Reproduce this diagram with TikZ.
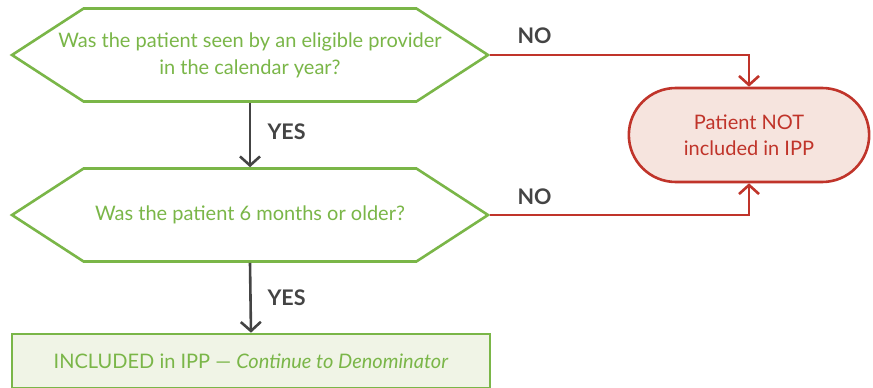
\documentclass[tikz,border=0pt]{standalone}
\usepackage{fontspec}
\setmainfont{Lato}
\usetikzlibrary{shapes.symbols,shapes.misc,arrows.meta}
\definecolor{qgreen}{RGB}{122,182,72}
\definecolor{qred}{RGB}{192,52,42}
\definecolor{qpink}{RGB}{246,228,222}
\definecolor{qpale}{RGB}{240,244,230}
\definecolor{qgray}{RGB}{68,68,68}
\tikzset{
    question/.style={signal, signal to=west and east, signal pointer angle=66,
        draw=qgreen, line width=2.6pt, fill=white,
        minimum width=476pt, minimum height=93pt, inner sep=0pt},
    qtext/.style={text=qgreen, align=center, font=\fontsize{20}{27}\selectfont},
    outcome/.style={rounded rectangle, draw=qred, fill=qpink, text=qred, line width=2.6pt,
        align=center, minimum width=247pt, minimum height=94pt, font=\fontsize{20}{26}\selectfont},
    included/.style={rectangle, draw=qgreen, fill=qpale, text=qgreen, line width=2.6pt,
        minimum width=478pt, minimum height=54pt, font=\fontsize{20}{26}\selectfont},
    yesno/.style={text=qgray, font=\fontsize{21.5}{26}\selectfont\bfseries},
    yesarrow/.style={draw=qgray, line width=2.6pt, -{Straight Barb[length=9pt, width=20pt, line width=2.6pt]}},
    noarrow/.style={draw=qred, line width=2.6pt, -{Straight Barb[length=9pt, width=20pt, line width=2.6pt]}}
}
\begin{document}
\begin{tikzpicture}[x=1pt, y=-1pt]
    \useasboundingbox (0,0) rectangle (873,388);
    \node[question] (seen) at (250,55) {};
    \node[qtext] (seentext) at (seen) {Was the patient seen by an eligible provider\\in the calendar year?};
    \node[question] (age) at (250,215) {};
    \node[qtext] (agetext) at (age) {Was the patient 6 months or older?};
    \node[included] (ipp) at (251,361) {INCLUDED in IPP --- \textit{Continue to Denominator}};
    \node[outcome] (notipp) at (749,135) {Patient NOT\\included in IPP};
    \draw[yesarrow] (seen.south) -- (age.north);
    \draw[yesarrow] (age.south) -- (ipp.north);
    \draw[noarrow] (seen.east) -| (notipp.north);
    \draw[noarrow] (age.east) -| (notipp.south);
    \node[yesno, anchor=west] (yes1) at (264,132) {YES};
    \node[yesno, anchor=west] (yes2) at (264,298) {YES};
    \node[yesno, anchor=west] (no1) at (514,36) {NO};
    \node[yesno, anchor=west] (no2) at (514,197) {NO};
\end{tikzpicture}
\end{document}
